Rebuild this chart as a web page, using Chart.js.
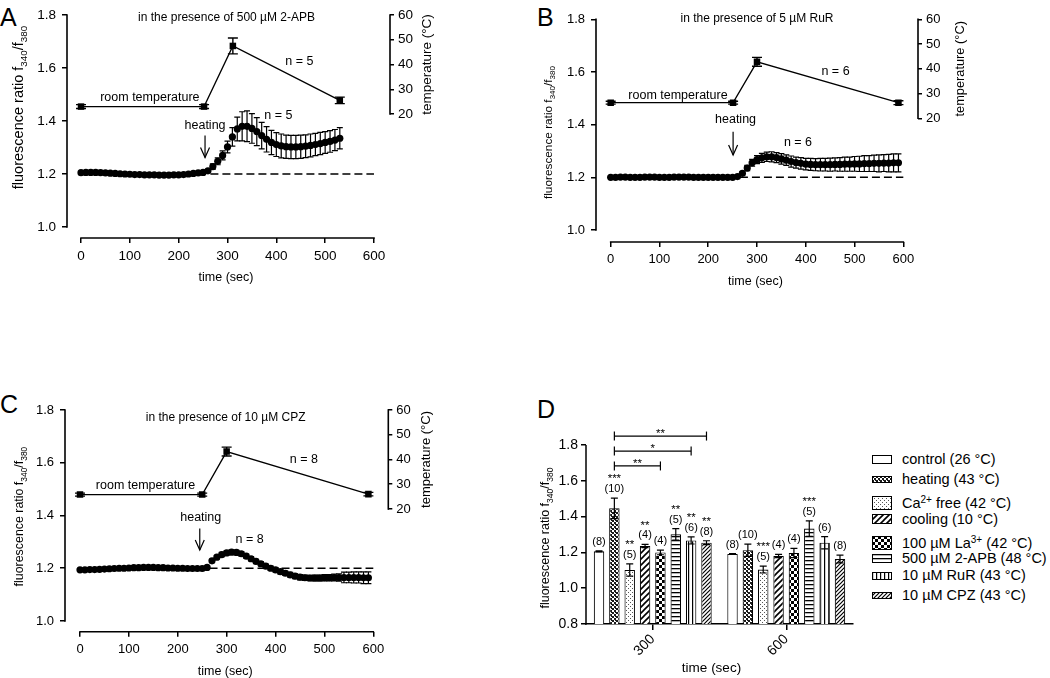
<!DOCTYPE html>
<html><head><meta charset="utf-8"><title>Figure</title>
<script src="https://cdn.jsdelivr.net/npm/chart.js@4.4.1/dist/chart.umd.min.js"></script>
<style>
html,body{margin:0;padding:0;background:#fff}
body{position:relative;width:1050px;height:678px;overflow:hidden;font-family:'Liberation Sans',Arial,Helvetica,sans-serif;color:#000}
.panel{position:absolute}
.letter{position:absolute;font-size:25px;line-height:25px}
.leg{position:absolute;white-space:nowrap;font-size:14.5px;line-height:16px}
.leg sup{font-size:10px;line-height:0;vertical-align:5px}
.sw{position:absolute}
</style></head>
<body>
<div class="letter" style="left:0px;top:5px">A</div>
<div class="letter" style="left:537px;top:5px">B</div>
<div class="letter" style="left:0px;top:392px">C</div>
<div class="letter" style="left:537px;top:397px">D</div>
<div class="panel" style="left:0px;top:0px"><canvas id="cA" width="445" height="300"></canvas></div>
<div class="panel" style="left:525px;top:0px"><canvas id="cB" width="525" height="300"></canvas></div>
<div class="panel" style="left:0px;top:339px"><canvas id="cC" width="445" height="339"></canvas></div>
<div class="panel" style="left:500px;top:400px"><canvas id="cD" width="360" height="278"></canvas></div>
<div id="legend"></div>
<script>
// ---------------- DATA ----------------
const timeTicks = [0, 100, 200, 300, 400, 500, 600];
const ratioTicks = [1.0, 1.2, 1.4, 1.6, 1.8];
const tempTicks = [20, 30, 40, 50, 60];
const barRatioTicks = [0.8, 1.0, 1.2, 1.4, 1.6, 1.8];

// Panel A (500 µM 2-APB)
const timeA = [0,10,20,30,40,50,60,70,80,90,100,110,120,130,140,150,160,170,180,190,200,210,220,230,240,250,260,270,280,290,300,310,320,330,340,350,360,370,380,390,400,410,420,430,440,450,460,470,480,490,500,510,520,530];
const ratioA = [1.205,1.206,1.206,1.206,1.205,1.204,1.203,1.202,1.201,1.200,1.199,1.198,1.198,1.197,1.197,1.197,1.196,1.196,1.196,1.197,1.197,1.198,1.200,1.202,1.204,1.206,
  1.212,1.228,1.248,1.270,1.302,1.340,1.370,1.380,1.380,1.372,1.360,1.345,1.331,1.319,1.311,1.306,1.303,1.302,1.302,1.303,1.305,1.308,1.311,1.315,1.319,1.323,1.328,1.335];
const semA = [0.004,0.004,0.004,0.004,0.004,0.004,0.004,0.004,0.004,0.004,0.004,0.004,0.004,0.004,0.004,0.004,0.004,0.004,0.004,0.004,0.004,0.004,0.004,0.004,0.004,0.005,
  0.006,0.010,0.013,0.017,0.022,0.035,0.045,0.055,0.058,0.056,0.053,0.050,0.048,0.046,0.045,0.045,0.044,0.044,0.044,0.044,0.043,0.043,0.042,0.042,0.041,0.041,0.040,0.040];
const tempTimeA = [0, 252, 311, 530];
const tempA = [23.0, 23.0, 47.5, 25.5];
const tempSemA = [0.8, 0.8, 3.2, 1.3];

// Panel B (5 µM RuR)
const timeB = [0,10,20,30,40,50,60,70,80,90,100,110,120,130,140,150,160,170,180,190,200,210,220,230,240,250,260,270,280,290,300,310,320,330,340,350,360,370,380,390,400,410,420,430,440,450,460,470,480,490,500,510,520,530,540,550,560,570,580,590];
const ratioB = [1.200,1.200,1.201,1.201,1.200,1.200,1.200,1.201,1.201,1.201,1.200,1.200,1.200,1.201,1.201,1.201,1.201,1.200,1.200,1.200,1.200,1.200,1.200,1.200,1.200,1.200,
  1.203,1.215,1.235,1.255,1.267,1.274,1.278,1.278,1.275,1.270,1.265,1.260,1.256,1.253,1.250,1.249,1.248,1.248,1.248,1.248,1.249,1.249,1.250,1.250,1.251,1.251,1.252,1.252,1.253,1.253,1.254,1.254,1.255,1.255];
const semB = [0.002,0.002,0.002,0.002,0.002,0.002,0.002,0.002,0.002,0.002,0.002,0.002,0.002,0.002,0.002,0.002,0.002,0.002,0.002,0.002,0.002,0.002,0.002,0.002,0.002,0.002,
  0.003,0.006,0.010,0.013,0.015,0.017,0.018,0.019,0.019,0.020,0.020,0.021,0.021,0.022,0.022,0.023,0.023,0.024,0.024,0.025,0.025,0.026,0.027,0.027,0.028,0.029,0.030,0.030,0.031,0.032,0.032,0.033,0.034,0.034];
const tempTimeB = [0, 251, 300, 590];
const tempB = [26.3, 26.3, 42.8, 26.3];
const tempSemB = [0.6, 0.6, 1.8, 0.8];

// Panel C (10 µM CPZ)
const timeC = [0,10,20,30,40,50,60,70,80,90,100,110,120,130,140,150,160,170,180,190,200,210,220,230,240,250,260,270,280,290,300,310,320,330,340,350,360,370,380,390,400,410,420,430,440,450,460,470,480,490,500,510,520,530,540,550,560,570,580,590];
const ratioC = [1.194,1.194,1.195,1.195,1.196,1.197,1.198,1.199,1.200,1.200,1.201,1.202,1.202,1.203,1.203,1.203,1.202,1.202,1.201,1.201,1.200,1.200,1.199,1.199,1.199,1.199,
  1.203,1.228,1.242,1.252,1.258,1.261,1.260,1.255,1.246,1.236,1.226,1.217,1.208,1.200,1.194,1.187,1.181,1.175,1.170,1.166,1.164,1.163,1.163,1.163,1.164,1.164,1.165,1.165,1.165,1.165,1.165,1.165,1.164,1.164];
const semC = [0.003,0.003,0.003,0.003,0.003,0.003,0.003,0.003,0.003,0.003,0.003,0.003,0.003,0.003,0.003,0.003,0.003,0.003,0.003,0.003,0.003,0.003,0.003,0.003,0.003,0.003,
  0.004,0.006,0.007,0.008,0.008,0.008,0.008,0.008,0.008,0.008,0.008,0.008,0.008,0.008,0.008,0.008,0.008,0.009,0.009,0.010,0.010,0.010,0.011,0.011,0.012,0.012,0.013,0.014,0.020,0.020,0.021,0.021,0.022,0.022];
const tempTimeC = [0, 250, 300, 590];
const tempC = [25.8, 25.8, 43.2, 26.0];
const tempSemC = [0.6, 0.6, 1.8, 0.7];

// dashed reference line at ratio 1.2
const baselineX = [265, 600];
const baselineY = 1.2;

// annotations (data units)
const notesA = [
  {text:'room temperature', x:141, y:26.5, axis:'yT'},
  {text:'n = 5', x:447, y:41.2, axis:'yT'},
  {text:'heating', x:254, y:1.381, axis:'y'},
  {text:'n = 5', x:404, y:1.419, axis:'y'}
];
const notesB = [
  {text:'room temperature', x:138, y:29.1, axis:'yT'},
  {text:'n = 6', x:461, y:38.8, axis:'yT'},
  {text:'heating', x:256, y:1.418, axis:'y'},
  {text:'n = 6', x:384, y:1.332, axis:'y'}
];
const notesC = [
  {text:'room temperature', x:134, y:29.4, axis:'yT'},
  {text:'n = 8', x:458, y:39.8, axis:'yT'},
  {text:'heating', x:247, y:1.393, axis:'y'},
  {text:'n = 8', x:347, y:1.307, axis:'y'}
];
const arrowA = {x:254, from:1.345, to:1.262};
const arrowB = {x:251, from:1.373, to:1.285};
const arrowC = {x:245, from:1.351, to:1.269};
const titleA = {text:'in the presence of 500 µM 2-APB', x:298, y:1.789};
const titleB = {text:'in the presence of 5 µM RuR', x:300, y:1.801};
const titleC = {text:'in the presence of 10 µM CPZ', x:298, y:1.771};

// Panel D (bar chart)
const timeCats = ['300', '600'];
const seriesNames = ['control (26 °C)','heating (43 °C)','Ca2+ free (42 °C)','cooling (10 °C)','100 µM La3+ (42 °C)','500 µM 2-APB (48 °C)','10 µM RuR (43 °C)','10 µM CPZ (43 °C)'];
const meanAt300 = [1.206, 1.446, 1.102, 1.236, 1.200, 1.301, 1.267, 1.254];
const semAt300  = [0.003, 0.057, 0.034, 0.009, 0.013, 0.032, 0.020, 0.011];
const meanAt600 = [1.191, 1.212, 1.104, 1.180, 1.197, 1.333, 1.254, 1.163];
const semAt600  = [0.002, 0.034, 0.019, 0.009, 0.026, 0.043, 0.034, 0.022];
const nAt300 = [8, 10, 5, 4, 4, 5, 6, 8];
const nAt600 = [8, 10, 5, 4, 4, 5, 6, 8];
const starsAt300 = ['', '***', '**', '**', '', '**', '**', '**'];
const starsAt600 = ['', '', '***', '', '', '***', '', ''];
const sigBrackets = [
  {group:0, from:1, to:4, y:1.683, mark:'**'},
  {group:0, from:1, to:6, y:1.766, mark:'*'},
  {group:0, from:1, to:7, y:1.850, mark:'**'}
];
const patternKinds = ['none','dense','dots','diag','checker','hlines','vlines','diag2'];

// ---------------- RENDERING ----------------
const FONT = "'Liberation Sans', Arial, Helvetica, sans-serif";
Chart.defaults.font.family = FONT;
Chart.defaults.color = '#000';
function fnt(size){ return size + 'px ' + FONT; }
function seg(ctx, x1, y1, x2, y2){ ctx.beginPath(); ctx.moveTo(x1,y1); ctx.lineTo(x2,y2); ctx.stroke(); }

function makePattern(kind){
  if (kind === 'none') return '#ffffff';
  const sizes = {dense:4, dots:4, diag:6, checker:6, hlines:4, vlines:4, diag2:4};
  const n = sizes[kind];
  const c = document.createElement('canvas'); c.width = n; c.height = n;
  const g = c.getContext('2d');
  g.fillStyle = '#fff'; g.fillRect(0,0,n,n);
  g.fillStyle = '#000'; g.strokeStyle = '#000';
  if (kind === 'dense') { g.fillStyle='#1a1a1a'; g.fillRect(0,0,2,2); g.fillRect(2,2,2,2); g.fillRect(3,0,1,1); }
  if (kind === 'dots') { g.fillStyle='#555'; g.fillRect(0,0,1,1); g.fillRect(2,2,1,1); }
  if (kind === 'checker') { g.fillRect(0,0,3,3); g.fillRect(3,3,3,3); }
  if (kind === 'hlines') { g.fillRect(0,0,n,1.3); }
  if (kind === 'vlines') { g.fillRect(0,0,1.2,n); }
  if (kind === 'diag' || kind === 'diag2') {
    g.lineWidth = kind === 'diag' ? 1.6 : 1.2;
    g.beginPath();
    g.moveTo(-1, n+1); g.lineTo(n+1, -1);
    g.moveTo(-1, 1); g.lineTo(1, -1);
    g.moveTo(n-1, n+1); g.lineTo(n+1, n-1);
    g.stroke();
  }
  return document.createElement('canvas').getContext('2d').createPattern(c, 'repeat');
}
const patterns = patternKinds.map(makePattern);

const errorBarsPlugin = {
  id:'errorBars',
  afterDatasetsDraw(chart){
    const ctx = chart.ctx;
    ctx.save(); ctx.strokeStyle = '#000';
    chart.data.datasets.forEach((ds, i) => {
      if (!ds.errors) return;
      const meta = chart.getDatasetMeta(i);
      const ys = chart.scales[meta.yAxisID];
      ctx.lineWidth = ds.errLineWidth || 1.2;
      meta.data.forEach((el, j) => {
        const e = ds.errors[j]; if (!e) return;
        const raw = ds.data[j]; const v = (typeof raw === 'object') ? raw.y : raw;
        const yt = ys.getPixelForValue(v + e), yb = ys.getPixelForValue(v - e);
        const x = el.x, h = ds.capWidth / 2;
        ctx.beginPath();
        ctx.moveTo(x, yt); ctx.lineTo(x, yb);
        ctx.moveTo(x - h, yt); ctx.lineTo(x + h, yt);
        ctx.moveTo(x - h, yb); ctx.lineTo(x + h, yb);
        ctx.stroke();
      });
    });
    ctx.restore();
  }
};

function drawRatioTitle(ctx, cx, cy, size){
  const parts = [['fluorescence ratio f',0],['340',1],['/f',0],['380',1]];
  const sub = 0.68;
  ctx.save(); ctx.translate(cx, cy); ctx.rotate(-Math.PI/2);
  let total = 0;
  parts.forEach(([t,s]) => { ctx.font = fnt(s ? size*sub : size); total += ctx.measureText(t).width; });
  let x = -total/2;
  ctx.textAlign = 'left'; ctx.textBaseline = 'alphabetic'; ctx.fillStyle = '#000';
  parts.forEach(([t,s]) => {
    ctx.font = fnt(s ? size*sub : size);
    ctx.fillText(t, x, s ? size*0.35 + size*0.28 : size*0.35);
    x += ctx.measureText(t).width;
  });
  ctx.restore();
}

function linePanelDecor(p){
  return {
    id: 'decor' + p.id,
    afterDraw(chart){
      const ctx = chart.ctx, a = chart.chartArea;
      const sx = chart.scales.x, sy = chart.scales.y, st = chart.scales.yT;
      ctx.save();
      ctx.strokeStyle = '#000'; ctx.fillStyle = '#000';
      ctx.lineWidth = 1.6; ctx.lineCap = 'square';
      seg(ctx, sx.getPixelForValue(timeTicks[0]), a.bottom, sx.getPixelForValue(timeTicks[timeTicks.length-1]), a.bottom);
      seg(ctx, a.left, sy.getPixelForValue(ratioTicks[0]), a.left, sy.getPixelForValue(ratioTicks[ratioTicks.length-1]));
      seg(ctx, a.right, st.getPixelForValue(tempTicks[0]), a.right, st.getPixelForValue(tempTicks[tempTicks.length-1]));
      ctx.lineCap = 'butt';
      ctx.textAlign = 'center'; ctx.textBaseline = 'middle';
      ctx.font = fnt(12.5);
      p.notes.forEach(n => {
        const sc = n.axis === 'yT' ? st : sy;
        ctx.fillText(n.text, sx.getPixelForValue(n.x), sc.getPixelForValue(n.y));
      });
      ctx.font = fnt(12);
      ctx.fillText(p.title.text, sx.getPixelForValue(p.title.x), sy.getPixelForValue(p.title.y));
      const ax = sx.getPixelForValue(p.arrow.x), y1 = sy.getPixelForValue(p.arrow.from), y2 = sy.getPixelForValue(p.arrow.to);
      ctx.lineWidth = 1.2;
      seg(ctx, ax, y1, ax, y2);
      ctx.beginPath(); ctx.moveTo(ax - 4.5, y2 - 10); ctx.lineTo(ax, y2); ctx.lineTo(ax + 4.5, y2 - 10); ctx.stroke();
      ctx.font = fnt(p.xtSize);
      ctx.fillText('time (sec)', sx.getPixelForValue(297), a.bottom + 39.5);
      drawRatioTitle(ctx, a.left - p.ytDx, sy.getPixelForValue(p.ytVal), p.ytSize);
      ctx.save();
      ctx.translate(a.right + p.ttDx, st.getPixelForValue(40));
      ctx.rotate(-Math.PI/2);
      ctx.font = fnt(p.ttSize); ctx.textAlign = 'center'; ctx.textBaseline = 'middle';
      ctx.fillText('temperature (°C)', 0, 0);
      ctx.restore();
      ctx.restore();
    }
  };
}

function linePanelConfig(p){
  const tickGrid = (len) => ({display:true, drawOnChartArea:false, drawTicks:true, tickLength:len, color:'#000', lineWidth:1.5});
  return {
    type: 'line',
    data: { datasets: [
      { label:'fluorescence ratio', data: p.time.map((t,i) => ({x:t, y:p.ratio[i]})), errors: p.sem, capWidth:6,
        showLine:false, pointRadius:3.6, pointBackgroundColor:'#000', pointBorderColor:'#000', pointBorderWidth:0, yAxisID:'y' },
      { label:'temperature', data: p.tTime.map((t,i) => ({x:t, y:p.temp[i]})), errors: p.tSem, capWidth:10, errLineWidth:1.4,
        borderColor:'#000', borderWidth:1.3, pointStyle:'rect', pointRadius:4.6, pointBackgroundColor:'#000', pointBorderColor:'#000', pointBorderWidth:0, yAxisID:'yT' },
      { label:'baseline', data: baselineX.map(x => ({x:x, y:baselineY})), borderColor:'#000', borderWidth:1.5, borderDash:[8,4],
        pointRadius:0, yAxisID:'y' }
    ]},
    options: {
      responsive:false, animation:false, events:[],
      layout:{ padding:{top:p.padTop, left:0, right:0, bottom:0} },
      plugins:{ legend:{display:false}, tooltip:{enabled:false} },
      scales:{
        x:{ type:'linear', min:p.xMin, max:p.xMax,
            afterBuildTicks: s => { s.ticks = timeTicks.map(v => ({value:v})); },
            afterFit: s => { s.height = p.bottomH; },
            grid: tickGrid(5), border:{display:false},
            ticks:{ font:{size:p.tick}, padding:5, maxRotation:0, autoSkip:false } },
        y:{ type:'linear', position:'left', min:p.yMin, max:1.8,
            afterBuildTicks: s => { s.ticks = ratioTicks.map(v => ({value:v})); },
            afterFit: s => { s.width = p.leftW; },
            grid: tickGrid(5), border:{display:false},
            ticks:{ font:{size:p.tick}, padding:6, callback: v => Number(v).toFixed(1) } },
        yT:{ type:'linear', position:'right', min:p.tMin, max:60,
            afterBuildTicks: s => { s.ticks = tempTicks.map(v => ({value:v})); },
            afterFit: s => { s.width = p.rightW; },
            grid: tickGrid(4), border:{display:false},
            ticks:{ font:{size:p.tick}, padding:4 } }
      }
    },
    plugins:[errorBarsPlugin, linePanelDecor(p)]
  };
}

const panels = [
  {id:'A', canvas:'cA', time:timeA, ratio:ratioA, sem:semA, tTime:tempTimeA, temp:tempA, tSem:tempSemA,
   xMin:-28.7, xMax:632.8, yMin:0.9585, tMin:-30.1, leftW:67, rightW:55, bottomH:62, padTop:15,
   tick:13.5, xtSize:12.5, ytSize:14.5, ytDx:49, ytVal:1.451, ttSize:13.5, ttDx:37, notes:notesA, arrow:arrowA, title:titleA},
  {id:'B', canvas:'cB', time:timeB, ratio:ratioB, sem:semB, tTime:tempTimeB, temp:tempB, tSem:tempSemB,
   xMin:-30.1, xMax:630.1, yMin:0.9544, tMin:-30.0, leftW:71, rightW:132, bottomH:58, padTop:19.3,
   tick:13, xtSize:12.5, ytSize:11.8, ytDx:48, ytVal:1.370, ttSize:12.8, ttDx:42, notes:notesB, arrow:arrowB, title:titleB},
  {id:'C', canvas:'cC', time:timeC, ratio:ratioC, sem:semC, tTime:tempTimeC, temp:tempC, tSem:tempSemC,
   xMin:-30.7, xMax:630.7, yMin:0.9594, tMin:-29.6, leftW:65, rightW:56.7, bottomH:46.3, padTop:71,
   tick:13, xtSize:12.5, ytSize:12.4, ytDx:46, ytVal:1.396, ttSize:13, ttDx:38, notes:notesC, arrow:arrowC, title:titleC}
];
panels.forEach(p => new Chart(document.getElementById(p.canvas), linePanelConfig(p)));

// ---- Panel D ----
function drawStars(ctx, text, x, y){
  ctx.font = fnt(11.5); ctx.textAlign = 'center'; ctx.textBaseline = 'middle';
  ctx.fillText(text, x, y + 2.5);
}
const barDecor = {
  id:'barDecor',
  afterDraw(chart){
    const ctx = chart.ctx, a = chart.chartArea, sy = chart.scales.y;
    ctx.save(); ctx.strokeStyle = '#000'; ctx.fillStyle = '#000';
    ctx.lineWidth = 1.5;
    seg(ctx, a.left, sy.getPixelForValue(barRatioTicks[0]) + 0.75, a.left, sy.getPixelForValue(barRatioTicks[barRatioTicks.length-1]));
    chart.data.datasets.forEach((ds, i) => {
      const meta = chart.getDatasetMeta(i);
      meta.data.forEach((el, j) => {
        const top = sy.getPixelForValue(ds.data[j] + ds.errors[j]);
        ctx.font = fnt(11); ctx.textAlign = 'center'; ctx.textBaseline = 'middle';
        ctx.fillText('(' + ds.nLabels[j] + ')', el.x, top - 9);
        if (ds.stars[j]) drawStars(ctx, ds.stars[j], el.x, top - 21.5);
      });
    });
    ctx.lineWidth = 1.2;
    sigBrackets.forEach(b => {
      const x1 = chart.getDatasetMeta(b.from).data[b.group].x, x2 = chart.getDatasetMeta(b.to).data[b.group].x;
      const y = sy.getPixelForValue(b.y);
      seg(ctx, x1, y, x2, y); seg(ctx, x1, y - 4.5, x1, y + 4.5); seg(ctx, x2, y - 4.5, x2, y + 4.5);
      drawStars(ctx, b.mark, (x1 + x2) / 2, y - 5);
    });
    ctx.font = fnt(13.5); ctx.textAlign = 'center'; ctx.textBaseline = 'middle';
    ctx.fillText('time (sec)', (a.left + a.right) / 2 - 8, a.bottom + 44.3);
    drawRatioTitle(ctx, a.left - 41, sy.getPixelForValue(1.28), 12.5);
    ctx.restore();
  }
};
new Chart(document.getElementById('cD'), {
  type:'bar',
  data:{ labels: timeCats, datasets: seriesNames.map((name, i) => ({
    label:name, data:[meanAt300[i], meanAt600[i]], errors:[semAt300[i], semAt600[i]],
    nLabels:[nAt300[i], nAt600[i]], stars:[starsAt300[i], starsAt600[i]], capWidth:7,
    backgroundColor: patterns[i], borderColor:'#000', borderWidth:1.1, borderSkipped:'start'
  }))},
  options:{
    responsive:false, animation:false, events:[],
    categoryPercentage:0.92, barPercentage:0.68,
    layout:{ padding:{top:27.1, left:0, right:7, bottom:0} },
    plugins:{ legend:{display:false}, tooltip:{enabled:false} },
    scales:{
      x:{ type:'category', afterFit: s => { s.height = 54; },
          grid:{display:true, offset:false, drawOnChartArea:false, drawTicks:true, tickLength:6, color:'#000', lineWidth:1.5},
          border:{display:true, color:'#000', width:1.5},
          ticks:{ font:{size:14}, padding:1, maxRotation:45, minRotation:45, autoSkip:false } },
      y:{ type:'linear', min:0.8, max:1.9,
          afterBuildTicks: s => { s.ticks = barRatioTicks.map(v => ({value:v})); },
          afterFit: s => { s.width = 86; },
          grid:{display:true, drawOnChartArea:false, drawTicks:true, tickLength:5, color:'#000', lineWidth:1.5},
          border:{display:false},
          ticks:{ font:{size:14}, padding:3, callback: v => Number(v).toFixed(1) } }
    }
  },
  plugins:[errorBarsPlugin, barDecor]
});

// legend (HTML text, pattern swatches)
const legendY = [459, 479, 503, 519, 543, 558, 575.5, 595];
const swatchH = [8, 6, 13, 9, 13, 8, 7, 6];
const legend = document.getElementById('legend');
seriesNames.forEach((name, i) => {
  const sw = document.createElement('canvas');
  sw.width = 20; sw.height = swatchH[i] + 1; sw.className = 'sw';
  sw.style.left = '872px'; sw.style.top = (legendY[i] - (swatchH[i] + 1) / 2) + 'px';
  const g = sw.getContext('2d');
  g.fillStyle = patterns[i]; g.fillRect(0.5, 0.5, 19, swatchH[i]);
  g.strokeStyle = '#000'; g.lineWidth = 1; g.strokeRect(0.5, 0.5, 19, swatchH[i]);
  legend.appendChild(sw);
  const t = document.createElement('div');
  t.className = 'leg';
  t.style.left = '902px'; t.style.top = (legendY[i] - 8.5) + 'px';
  t.innerHTML = name.replace(/(Ca|La)(\d\+)/, '$1<sup>$2</sup>');
  legend.appendChild(t);
});
</script>
</body></html>
